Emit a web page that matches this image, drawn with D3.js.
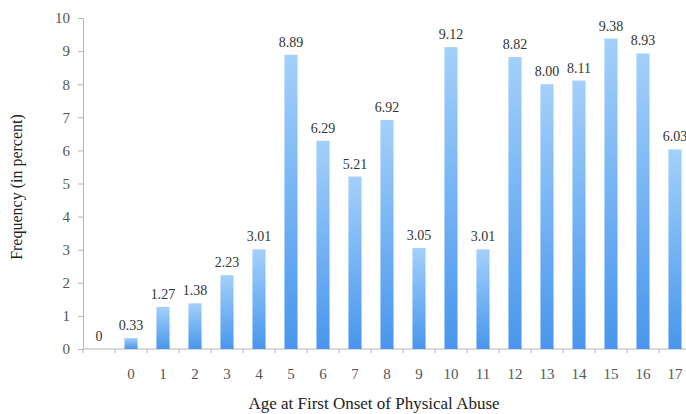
<!DOCTYPE html>
<html><head><meta charset="utf-8">
<script src="https://cdn.jsdelivr.net/npm/d3@7"></script>
<style>body{margin:0;background:#fff}svg{display:block}svg text{font-family:"Liberation Serif","DejaVu Serif","Times New Roman",serif}</style>
</head><body>
<script>
const categories = ["", "0","1","2","3","4","5","6","7","8","9","10","11","12","13","14","15","16","17"];
const values = [0, 0.33, 1.27, 1.38, 2.23, 3.01, 8.89, 6.29, 5.21, 6.92, 3.05, 9.12, 3.01, 8.82, 8.00, 8.11, 9.38, 8.93, 6.03];
const labels = ["0","0.33","1.27","1.38","2.23","3.01","8.89","6.29","5.21","6.92","3.05","9.12","3.01","8.82","8.00","8.11","9.38","8.93","6.03"];
const yTicks = [0,1,2,3,4,5,6,7,8,9,10];

const W=686,H=414;
const svg=d3.select("body").append("svg").attr("width",W).attr("height",H);
const x0=83, y0=349, yTop=18;
const x=d3.scaleBand().domain(d3.range(categories.length)).range([x0,x0+19*32]).paddingInner(0.59).paddingOuter(0.295);
const y=d3.scaleLinear().domain([0,10]).range([y0,yTop]);
const font='"Liberation Serif","DejaVu Serif","Times New Roman",serif';

const defs=svg.append("defs");
const g=defs.append("linearGradient").attr("id","bg").attr("x1",0).attr("y1",0).attr("x2",0).attr("y2",1);
g.append("stop").attr("offset","0%").attr("stop-color","#a3d0fa");
g.append("stop").attr("offset","100%").attr("stop-color","#4896ec");

// y axis
const ya=svg.append("g").attr("transform",`translate(${x0},0)`).call(d3.axisLeft(y).tickValues(yTicks).tickSize(5).tickPadding(8));
ya.attr("font-family",null);
ya.select(".domain").attr("stroke","#b0b8b8");
ya.selectAll(".tick line").attr("stroke","#b0b8b8");
ya.selectAll("text").style("font-family",font).attr("font-size",15).attr("fill","#555");

// x axis: baseline with ticks at band boundaries
const xEnd=x0+19*32;
svg.append("line").attr("x1",x0).attr("x2",xEnd).attr("y1",y0).attr("y2",y0).attr("stroke","#b0b8b8");
const step=x.step();
svg.append("g").selectAll("line").data(d3.range(categories.length+1)).join("line")
  .attr("x1",i=>x0+i*step).attr("x2",i=>x0+i*step).attr("y1",y0).attr("y2",y0+4).attr("stroke","#b0b8b8");
svg.append("g").selectAll("text").data(categories).join("text")
  .attr("x",(d,i)=>x(i)+x.bandwidth()/2).attr("y",y0+30).attr("text-anchor","middle")
  .style("font-family",font).attr("font-size",15).attr("fill","#555").text(d=>d);

// bars
svg.append("g").selectAll("rect").data(values).join("rect")
  .attr("x",(d,i)=>x(i)).attr("width",x.bandwidth())
  .attr("y",d=>y(d)).attr("height",d=>y0-y(d)).attr("fill","url(#bg)");

// value labels
svg.append("g").selectAll("text").data(values).join("text")
  .attr("x",(d,i)=>x(i)+x.bandwidth()/2).attr("y",d=>y(d)-8).attr("text-anchor","middle")
  .style("font-family",font).attr("font-size",14).attr("fill","#333").text((d,i)=>labels[i]);

// titles
svg.append("text").attr("x",374).attr("y",409).attr("text-anchor","middle")
  .style("font-family",font).attr("font-size",17).attr("fill","#222").text("Age at First Onset of Physical Abuse");
svg.append("text").attr("transform","translate(22,187) rotate(-90)").attr("text-anchor","middle")
  .style("font-family",font).attr("font-size",16).attr("fill","#222").text("Frequency (in percent)");
</script>
</body></html>
